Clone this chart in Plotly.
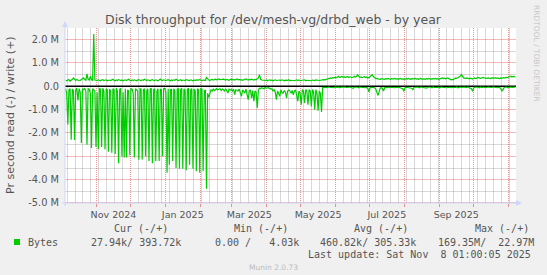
import plotly.graph_objects as go
from datetime import datetime, timedelta

# ---------------- data (values in M bytes / second, one value per day) ----------------
START = datetime(2024, 10, 4, 1, 0)
END = datetime(2025, 11, 8, 1, 0)

write_mb = [
    0.26, 0.24, 0.27, 0.29, 0.22, 0.25, 0.30, 0.36, 0.28, 0.25,
    0.29, 0.26, 0.24, 0.25, 0.28, 0.31, 0.36, 0.30, 0.26, 0.53,
    0.30, 0.27, 0.43, 0.28, 0.26, 2.24, 0.27, 0.26, 0.25, 0.28,
    0.26, 0.24, 0.27, 0.29, 0.25, 0.26, 0.28, 0.24, 0.26, 0.27,
    0.25, 0.28, 0.30, 0.26, 0.24, 0.27, 0.25, 0.29, 0.26, 0.25,
    0.27, 0.24, 0.26, 0.28, 0.25, 0.27, 0.30, 0.26, 0.24, 0.27,
    0.25, 0.28, 0.26, 0.24, 0.27, 0.29, 0.26, 0.25, 0.28, 0.26,
    0.30, 0.27, 0.25, 0.28, 0.26, 0.24, 0.27, 0.29, 0.26, 0.25,
    0.28, 0.26, 0.24, 0.27, 0.31, 0.27, 0.25, 0.28, 0.26, 0.25,
    0.27, 0.29, 0.26, 0.24, 0.27, 0.25, 0.28, 0.26, 0.30, 0.27,
    0.25, 0.26, 0.28, 0.24, 0.27, 0.26, 0.25, 0.29, 0.27, 0.26,
    0.25, 0.28, 0.26, 0.24, 0.27, 0.25, 0.28, 0.26, 0.27, 0.29,
    0.26, 0.25, 0.27, 0.28, 0.26, 0.38, 0.30, 0.27, 0.26, 0.28,
    0.30, 0.27, 0.29, 0.31, 0.28, 0.30, 0.32, 0.29, 0.28, 0.30,
    0.31, 0.29, 0.27, 0.30, 0.28, 0.26, 0.29, 0.31, 0.28, 0.30,
    0.27, 0.29, 0.32, 0.28, 0.30, 0.27, 0.29, 0.26, 0.28, 0.30,
    0.32, 0.29, 0.27, 0.30, 0.28, 0.31, 0.29, 0.27, 0.30, 0.28,
    0.32, 0.36, 0.50, 0.30, 0.27, 0.26, 0.28, 0.25, 0.27, 0.24,
    0.26, 0.28, 0.25, 0.27, 0.24, 0.26, 0.28, 0.25, 0.26, 0.24,
    0.27, 0.25, 0.28, 0.26, 0.24, 0.27, 0.25, 0.26, 0.28, 0.24,
    0.26, 0.25, 0.27, 0.24, 0.26, 0.28, 0.25, 0.27, 0.24, 0.26,
    0.25, 0.27, 0.28, 0.24, 0.26, 0.25, 0.27, 0.26, 0.24, 0.27,
    0.26, 0.25, 0.28, 0.26, 0.27, 0.25, 0.26, 0.28, 0.27, 0.29,
    0.28, 0.30, 0.32, 0.31, 0.35, 0.36, 0.34, 0.37, 0.36, 0.38,
    0.36, 0.40, 0.43, 0.38, 0.40, 0.42, 0.39, 0.41, 0.38, 0.40,
    0.42, 0.38, 0.41, 0.40, 0.37, 0.39, 0.43, 0.40, 0.42, 0.50,
    0.41, 0.38, 0.40, 0.37, 0.39, 0.42, 0.38, 0.40, 0.36, 0.38,
    0.41, 0.46, 0.50, 0.42, 0.36, 0.34, 0.33, 0.31, 0.32, 0.30,
    0.33, 0.31, 0.32, 0.30, 0.33, 0.31, 0.34, 0.32, 0.30, 0.33,
    0.31, 0.32, 0.34, 0.31, 0.33, 0.30, 0.32, 0.34, 0.31, 0.33,
    0.32, 0.30, 0.33, 0.31, 0.34, 0.32, 0.30, 0.33, 0.31, 0.32,
    0.34, 0.31, 0.33, 0.30, 0.32, 0.34, 0.31, 0.33, 0.32, 0.30,
    0.33, 0.31, 0.34, 0.32, 0.30, 0.33, 0.31, 0.32, 0.34, 0.31,
    0.33, 0.30, 0.32, 0.34, 0.36, 0.33, 0.35, 0.32, 0.34, 0.36,
    0.33, 0.30, 0.28, 0.30, 0.29, 0.33, 0.36, 0.34, 0.37, 0.40,
    0.43, 0.50, 0.42, 0.36, 0.35, 0.33, 0.36, 0.34, 0.32, 0.35,
    0.33, 0.31, 0.34, 0.36, 0.33, 0.35, 0.38, 0.36, 0.34, 0.36,
    0.38, 0.36, 0.35, 0.37, 0.34, 0.36, 0.35, 0.33, 0.36, 0.34,
    0.35, 0.37, 0.34, 0.36, 0.35, 0.33, 0.36, 0.34, 0.37, 0.35,
    0.36, 0.38, 0.37, 0.40, 0.42, 0.44, 0.40, 0.43, 0.42, 0.39,
]

# read magnitudes (drawn below zero)
read_mb = [
    0.10, 0.30, 1.64, 0.15, 0.10, 2.29, 0.12, 0.20, 2.30, 0.15,
    0.08, 0.60, 0.10, 0.25, 2.43, 0.10, 0.15, 0.08, 0.20, 2.50,
    0.10, 0.12, 0.30, 2.64, 0.10, 0.15, 0.20, 2.60, 0.25, 2.70,
    0.10, 0.12, 2.60, 0.08, 0.20, 2.70, 0.10, 0.15, 2.80, 0.12,
    0.20, 2.85, 0.10, 0.15, 2.90, 0.08, 0.20, 3.30, 0.12, 0.10,
    3.00, 0.25, 3.05, 0.10, 3.05, 0.15, 0.20, 2.95, 0.10, 0.12,
    0.30, 3.05, 0.10, 0.15, 0.20, 3.15, 0.10, 0.12, 3.14, 0.15,
    0.10, 3.00, 0.20, 0.10, 3.20, 0.12, 0.08, 3.30, 0.15, 0.10,
    3.20, 0.20, 0.10, 3.20, 0.12, 0.15, 3.00, 0.10, 0.08, 0.25,
    3.70, 0.10, 3.36, 0.15, 0.12, 3.20, 0.10, 0.20, 3.50, 0.12,
    0.10, 3.53, 0.15, 0.08, 3.53, 0.10, 0.20, 3.60, 0.12, 0.10,
    3.36, 0.15, 0.10, 3.53, 0.12, 0.20, 3.64, 0.10, 0.15, 3.70,
    0.10, 0.12, 3.64, 0.20, 0.15, 4.39, 0.30, 0.47, 0.25, 0.15,
    0.20, 0.12, 0.18, 0.14, 0.10, 0.15, 0.12, 0.10, 0.18, 0.12,
    0.15, 0.20, 0.10, 0.18, 0.29, 0.12, 0.15, 0.14, 0.20, 0.12,
    0.36, 0.15, 0.18, 0.20, 0.12, 0.25, 0.43, 0.15, 0.20, 0.29,
    0.12, 0.30, 0.57, 0.20, 0.15, 0.50, 0.18, 0.64, 0.20, 0.25,
    0.93, 0.15, 0.08, 0.10, 0.06, 0.08, 0.10, 0.05, 0.08, 0.07,
    0.06, 0.09, 0.12, 0.10, 0.20, 0.15, 0.25, 0.57, 0.20, 0.30,
    0.43, 0.15, 0.28, 0.29, 0.18, 0.25, 0.50, 0.20, 0.15, 0.21,
    0.30, 0.18, 0.36, 0.20, 0.15, 0.40, 0.64, 0.20, 0.30, 0.79,
    0.14, 0.20, 0.71, 0.14, 0.20, 0.79, 0.14, 0.20, 0.86, 0.14,
    0.25, 1.00, 0.14, 0.30, 1.04, 0.20, 0.30, 1.10, 0.05, 0.04,
    0.03, 0.05, 0.06, 0.03, 0.04, 0.05, 0.03, 0.04, 0.06, 0.03,
    0.05, 0.04, 0.03, 0.06, 0.04, 0.03, 0.05, 0.04, 0.03, 0.05,
    0.06, 0.04, 0.03, 0.05, 0.04, 0.08, 0.04, 0.03, 0.05, 0.04,
    0.06, 0.03, 0.04, 0.05, 0.03, 0.04, 0.06, 0.05, 0.08, 0.24,
    0.06, 0.04, 0.05, 0.03, 0.06, 0.10, 0.30, 0.39, 0.25, 0.08,
    0.05, 0.10, 0.20, 0.06, 0.04, 0.05, 0.03, 0.06, 0.04, 0.05,
    0.03, 0.04, 0.06, 0.05, 0.03, 0.04, 0.05, 0.06, 0.08, 0.10,
    0.21, 0.06, 0.04, 0.05, 0.03, 0.04, 0.06, 0.08, 0.14, 0.05,
    0.04, 0.03, 0.05, 0.04, 0.06, 0.03, 0.04, 0.05, 0.03, 0.06,
    0.08, 0.04, 0.03, 0.05, 0.04, 0.06, 0.03, 0.05, 0.04, 0.03,
    0.05, 0.04, 0.06, 0.03, 0.04, 0.05, 0.03, 0.04, 0.06, 0.05,
    0.03, 0.04, 0.06, 0.05, 0.03, 0.04, 0.05, 0.03, 0.06, 0.04,
    0.03, 0.05, 0.04, 0.06, 0.03, 0.05, 0.04, 0.03, 0.06, 0.08,
    0.10, 0.21, 0.06, 0.04, 0.03, 0.05, 0.04, 0.06, 0.03, 0.05,
    0.04, 0.03, 0.06, 0.04, 0.05, 0.03, 0.04, 0.06, 0.05, 0.03,
    0.04, 0.05, 0.03, 0.06, 0.04, 0.05, 0.10, 0.21, 0.14, 0.05,
    0.04, 0.03, 0.06, 0.04, 0.05, 0.03, 0.04, 0.05, 0.03, 0.03,
]

month_label_text = ["Nov 2024", "Jan 2025", "Mar 2025", "May 2025", "Jul 2025", "Sep 2025"]
month_label_start = ["2024-11-01", "2025-01-01", "2025-03-01", "2025-05-01", "2025-07-01", "2025-09-01"]
y_tick_vals = [-5, -4, -3, -2, -1, 0, 1, 2]
y_tick_text = ["-5.0 M", "-4.0 M", "-3.0 M", "-2.0 M", "-1.0 M", "0.0", "1.0 M", "2.0 M"]

legend_headers = ["Cur (-/+)", "Min (-/+)", "Avg (-/+)", "Max (-/+)"]
legend_values = ["27.94k/ 393.72k", "0.00 /   4.03k", "460.82k/ 305.33k", "169.35M/  22.97M"]
series_name = "Bytes"
last_update = "Last update: Sat Nov  8 01:00:05 2025"

# ---------------- layout geometry ----------------
W, H = 547, 275
L, R, T, B = 65, 31, 28, 72
PW, PH = W - L - R, H - T - B
Y0, Y1 = -5.0, 2.5

def px(x):
    return (x - L) / PW

def py(y):
    return (T + PH - y) / PH

def pxy(yv):
    # pixel row (page coords) of a y value, snapped to a pixel centre
    p = T + (Y1 - yv) * PH / (Y1 - Y0)
    return round(p - 0.5) + 0.5

def pxt(t):
    span = (END - START).total_seconds()
    p = L + (t - START).total_seconds() / span * PW
    return round(p - 0.5) + 0.5

GREEN = "#00CC00"
FONT_C = "#555555"
AXIS_C = "#CFD6F8"
MGRID = "rgba(222,79,79,0.6)"
MGRID_S = "rgba(222,79,79,0.4)"
GRID_S = "rgba(143,143,143,0.35)"
DASH = "1px,1px"

days_w = [START + timedelta(days=i, hours=12) for i in range(len(write_mb))]
days_r = [START + timedelta(days=i, hours=12) for i in range(len(read_mb))]

# label centres: middle of each labelled month
mid_months = []
for s in month_label_start:
    d0 = datetime.strptime(s, "%Y-%m-%d")
    d1 = datetime(d0.year + (d0.month // 12), d0.month % 12 + 1, 1)
    mid_months.append(d0 + (d1 - d0) / 2)

# grid positions: month starts (major) and Sundays (minor)
month_starts = []
d = datetime(2024, 11, 1)
while d < END:
    month_starts.append(d)
    d = datetime(d.year + (d.month // 12), d.month % 12 + 1, 1)
week_starts = []
d = datetime(2024, 10, 6)
while d < END:
    if d not in month_starts:
        week_starts.append(d)
    d += timedelta(days=7)
y_minor = [v + 0.5 for v in y_tick_vals if v + 0.5 < Y1]

fig = go.Figure()
fig.add_trace(go.Scatter(x=days_w, y=write_mb, mode="lines",
                         line=dict(color=GREEN, width=1.2), showlegend=False, hoverinfo="skip"))
fig.add_trace(go.Scatter(x=days_r, y=[-v for v in read_mb], mode="lines",
                         line=dict(color=GREEN, width=1.2), showlegend=False, hoverinfo="skip"))
fig.add_trace(go.Scatter(x=[], y=[], xaxis="x2", showlegend=False, hoverinfo="skip"))

fig.update_layout(
    width=W, height=H, autosize=False,
    margin=dict(l=L, r=R, t=T, b=B, pad=0),
    paper_bgcolor="#F0F0F0", plot_bgcolor="rgba(0,0,0,0)",
    font=dict(family="DejaVu Sans", color=FONT_C, size=10),
    xaxis=dict(
        type="date", range=[START, END],
        tickmode="array", tickvals=month_starts,
        showticklabels=False, showgrid=False,
        ticks="outside", ticklen=3, tickcolor=MGRID,
        showline=False, zeroline=False, fixedrange=True,
    ),
    xaxis2=dict(
        type="date", overlaying="x", matches="x", side="bottom", anchor="y",
        tickmode="array", tickvals=mid_months, ticktext=month_label_text,
        showgrid=False, showline=False, zeroline=False, ticks="",
        tickfont=dict(family="DejaVu Sans", size=9.5, color=FONT_C),
        ticklabelstandoff=4,
    ),
    yaxis=dict(
        range=[Y0, Y1], tickmode="array", tickvals=y_tick_vals, ticktext=y_tick_text,
        showgrid=False, zeroline=False,
        showline=False, ticks="", tickfont=dict(family="DejaVu Sans", size=9.8, color=FONT_C),
        ticklabelstandoff=5, fixedrange=True,
    ),
)

shapes = []
# white canvas (paper-level, below everything in the plot)
shapes.append(dict(type="rect", xref="paper", yref="paper", x0=0, x1=1, y0=0, y1=1, layer="below",
                   fillcolor="#FFFFFF", line=dict(width=0)))
# grid, drawn as paper-level lines placed at the tick positions' pixel rows/columns
for wv in week_starts:
    x = px(pxt(wv))
    shapes.append(dict(type="line", xref="paper", yref="paper", x0=x, x1=x, y0=0, y1=1, layer="below",
                       line=dict(color=GRID_S, width=1)))
for yv in y_minor:
    y = py(pxy(yv))
    shapes.append(dict(type="line", xref="paper", yref="paper", x0=0, x1=1, y0=y, y1=y, layer="below",
                       line=dict(color=GRID_S, width=1)))
for yv in y_tick_vals:
    if yv != 0:
        y = py(pxy(yv))
        shapes.append(dict(type="line", xref="paper", yref="paper", x0=0, x1=1, y0=y, y1=y, layer="below",
                           line=dict(color=MGRID_S, width=1)))
for mv in month_starts:
    x = px(pxt(mv))
    shapes.append(dict(type="line", xref="paper", yref="paper", x0=x, x1=x, y0=0, y1=1, layer="below",
                       line=dict(color=MGRID, width=1, dash=DASH)))
# zero line
shapes.append(dict(type="line", xref="paper", yref="y", x0=0, x1=1, y0=0, y1=0, layer="below",
                   line=dict(color="#000000", width=1.5)))
# axis lines and arrows
shapes.append(dict(type="line", xref="paper", yref="paper", x0=px(65), x1=px(65), y0=py(206), y1=py(25),
                   line=dict(color=AXIS_C, width=1)))
shapes.append(dict(type="line", xref="paper", yref="paper", x0=px(62), x1=px(518), y0=py(203), y1=py(203),
                   line=dict(color=AXIS_C, width=1)))
shapes.append(dict(type="path", xref="paper", yref="paper",
                   path=f"M {px(62)} {py(27)} L {px(65)} {py(21)} L {px(68)} {py(27)} Z",
                   fillcolor=AXIS_C, line=dict(color=AXIS_C, width=0)))
shapes.append(dict(type="path", xref="paper", yref="paper",
                   path=f"M {px(516)} {py(200)} L {px(522)} {py(203)} L {px(516)} {py(206)} Z",
                   fillcolor=AXIS_C, line=dict(color=AXIS_C, width=0)))
# legend swatch
shapes.append(dict(type="rect", xref="paper", yref="paper", x0=px(14), x1=px(20), y0=py(245), y1=py(239),
                   fillcolor=GREEN, line=dict(width=0)))

MONO = "DejaVu Sans Mono"
ann = []
ann.append(dict(text="Disk throughput for /dev/mesh-vg/drbd_web - by year", xref="paper", yref="paper",
                x=px(273.5), y=py(20), xanchor="center", yanchor="middle", showarrow=False,
                font=dict(family="DejaVu Sans", size=12.5, color=FONT_C)))
ann.append(dict(text="Pr second read (-) / write (+)", xref="paper", yref="paper",
                x=px(10.5), y=py(115.5), xanchor="center", yanchor="middle", textangle=-90, showarrow=False,
                font=dict(family="DejaVu Sans", size=11, color=FONT_C)))
ann.append(dict(text="RRDTOOL / TOBI OETIKER", xref="paper", yref="paper",
                x=px(537), y=py(53), xanchor="center", yanchor="middle", textangle=90, showarrow=False,
                font=dict(family="DejaVu Sans", size=7.5, color="#C8C8C8")))
header_x = [111.6, 232, 352, 473]
for t, x in zip(legend_headers, header_x):
    ann.append(dict(text=t.replace(" ", "&nbsp;"), xref="paper", yref="paper", x=px(x), y=py(228.6),
                    xanchor="left", yanchor="middle", showarrow=False,
                    font=dict(family=MONO, size=10, color=FONT_C)))
ann.append(dict(text=series_name, xref="paper", yref="paper", x=px(26), y=py(242),
                xanchor="left", yanchor="middle", showarrow=False, font=dict(family=MONO, size=10, color=FONT_C)))
value_x = [89, 213, 318, 436]
for t, x in zip(legend_values, value_x):
    ann.append(dict(text=t.replace(" ", "&nbsp;"), xref="paper", yref="paper", x=px(x), y=py(242),
                    xanchor="left", yanchor="middle", showarrow=False,
                    font=dict(family=MONO, size=10, color=FONT_C)))
ann.append(dict(text=last_update.replace(" ", "&nbsp;"), xref="paper", yref="paper", x=px(533), y=py(254),
                xanchor="right", yanchor="middle", showarrow=False, font=dict(family=MONO, size=10, color=FONT_C)))
ann.append(dict(text="Munin 2.0.73", xref="paper", yref="paper", x=px(273), y=py(267),
                xanchor="center", yanchor="middle", showarrow=False,
                font=dict(family="DejaVu Sans", size=7.5, color="#BBBBBB")))

fig.update_layout(shapes=shapes, annotations=ann)
fig.write_html("out.html", config={"displayModeBar": False, "staticPlot": True})
